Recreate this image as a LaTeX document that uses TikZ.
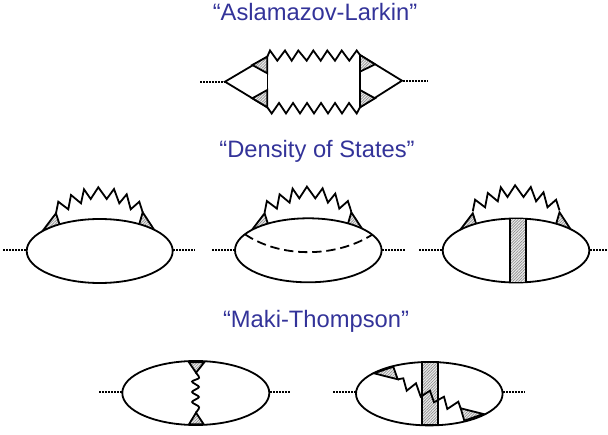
\documentclass[tikz,border=0pt]{standalone}
\usepackage{fontspec}
\setmainfont{Liberation Sans}
\usetikzlibrary{patterns.meta}
\definecolor{titleblue}{RGB}{51,51,153}
\tikzset{
  x=0.75pt,y=-0.75pt,
  line/.style={line width=1.35pt,line join=miter,miter limit=6,black},
  dots/.style={line width=1.5pt,dash pattern=on 1.5pt off .75pt,black},
  hatchfill/.style={fill=gray!15,postaction={pattern={Lines[angle=45,distance=1.5pt,line width=.5pt]},pattern color=gray!90}},
  title/.style={text=titleblue,font=\fontsize{17.8pt}{20pt}\selectfont,inner sep=0pt,anchor=center},
}
\newcommand{\hatched}[1]{\path[hatchfill] #1; \draw[line] #1;}
\newcommand{\selfloop}[2]{%
  \begin{scope}[shift={(#1,0)}]
    \hatched{(43.3,230) -- (56,213.3) -- (60,226) -- cycle}
    \hatched{(142.7,212.3) -- (154.3,230) -- (139,225) -- cycle}
    \draw[line,yshift=#2] (56,213.3) -- (58.3,201.7) -- (68.3,209.3) -- (71,195) -- (81,203.3) -- (84,189.3) -- (90.7,199) -- (98.3,187.3) -- (106.7,199) -- (114,189) -- (119.3,203.3) -- (126.7,194.3) -- (130.7,209.3) -- (139.3,201.7) -- (142.7,212.3);
  \end{scope}}
\begin{document}
\begin{tikzpicture}
\useasboundingbox (0,0) rectangle (608,435);
\node[title] (t1) at (315,12) {“Aslamazov-Larkin”};
\node[title] (t2) at (317,151.5) {“Density of States”};
\node[title] (t3) at (316,321.5) {“Maki-Thompson”};
% Aslamazov-Larkin
\draw[dots] (200,82) -- (225,82);
\draw[dots] (403,81) -- (428,81);
\draw[line] (267.3,56.7) -- (225,81.7) -- (267.3,107.3);
\draw[line,line width=.8pt] (267.3,56.7) -- (267.3,107.3);
\draw[line] (360,55) -- (402,80.7) -- (360,107.3) -- cycle;
\hatched{(252.3,65) -- (267.3,56.7) -- (267.3,73.3) -- cycle}
\hatched{(252.3,98.3) -- (267.3,90) -- (267.3,107.3) -- cycle}
\hatched{(360,55) -- (375,64.3) -- (360,71.7) -- cycle}
\hatched{(360,90) -- (375,98.3) -- (360,107.3) -- cycle}
\draw[line] (267.3,56.7) -- (270,50.5) -- (277.3,60.7) -- (285,50.5) -- (291.7,60.7) -- (298.3,50.5) -- (306.7,60.7) -- (313.3,50.5) -- (320.7,60.7) -- (327.3,50.5) -- (335,60.7) -- (341.7,50.5) -- (349.3,60.7) -- (356.7,50.5) -- (360,55);
\draw[line] (267.3,107.3) -- (271.7,113.5) -- (279,103) -- (286,113.5) -- (293,103) -- (300,113.5) -- (307,103) -- (314,113.5) -- (321,103) -- (328,113.5) -- (335,103) -- (342,113.5) -- (349,103) -- (356.7,113.5) -- (360,107.3);
% Density of States
\draw[dots] (3,250) -- (27,250);
\draw[dots] (173,250) -- (195,250);
\selfloop{0}{0pt}
\draw[line,fill=white] (99.7,251) ellipse [x radius=73,y radius=32];
\draw[dots] (212,250) -- (235,250);
\draw[dots] (382,250) -- (405,250);
\selfloop{208.6}{0.5pt}
\draw[line,fill=white] (308.3,250.3) ellipse [x radius=73.3,y radius=32];
\draw[line,dash pattern=on 7pt off 3.6pt] (245,234.3) .. controls (280,258) and (335,258) .. (371.7,235);
\draw[dots] (419,250) -- (443,250);
\draw[dots] (590,250) -- (608,250);
\selfloop{416.8}{1.5pt}
\draw[line,fill=white] (516,250.5) ellipse [x radius=73.3,y radius=32];
\hatched{(510,218.5) rectangle (525.7,282.5)}
% Maki-Thompson
\draw[dots] (99,392) -- (122,392);
\draw[dots] (270,392) -- (291,392);
\draw[line] (195.8,393) ellipse [x radius=73.5,y radius=32];
\hatched{(189,362.3) -- (204.3,362.3) -- (196,372.7) -- cycle}
\hatched{(189,424.3) -- (203.7,424.3) -- (196,412.7) -- cycle}
\draw[line,rounded corners=1.6pt] (196,372.7) -- (200,378) -- (191,381.5) -- (200,387) -- (191,392) -- (200,397) -- (191,402) -- (200,407) -- (196,412.7);
\draw[dots] (333,392) -- (356,392);
\draw[dots] (503,392) -- (525,392);
\draw[line] (429.3,393.7) ellipse [x radius=73.3,y radius=31.7];
\hatched{(422.3,362) rectangle (437.7,425.3)}
\hatched{(374,373.3) -- (393.3,366.7) -- (397.7,379.3) -- cycle}
\hatched{(460.7,408.3) -- (483.3,414) -- (464.3,420.7) -- cycle}
\draw[line] (397.7,379.3) -- (403.3,378.3) -- (406.7,390.7) -- (416,383.3) -- (420.7,396.7) -- (430,390.7) -- (434,402.3) -- (444,396.7) -- (447.3,409) -- (458.3,401.7) -- (460.7,408.3);
\end{tikzpicture}
\end{document}
